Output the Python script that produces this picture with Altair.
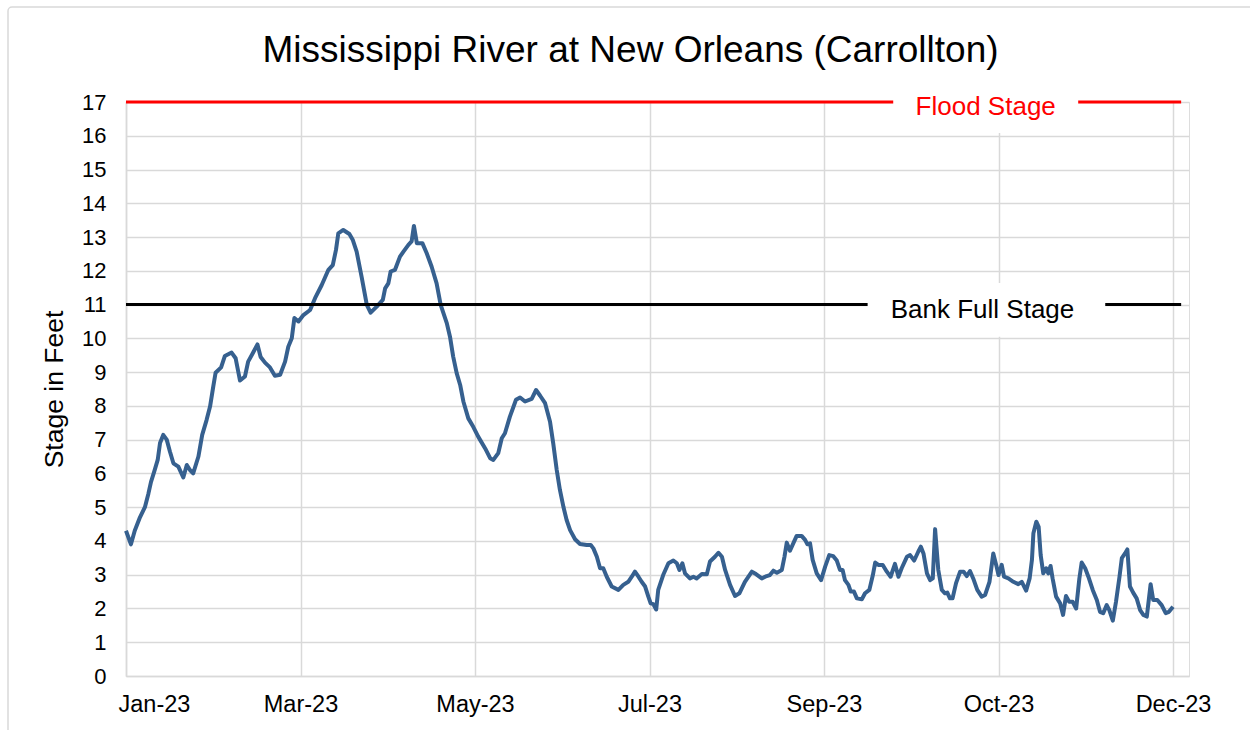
import altair as alt
import pandas as pd

# ---- data (day offset from first tick, stage in feet) ----
days = [0, 1.7, 3, 4.8, 6.5, 7.7, 8.6, 9.7, 10.9, 11.7, 12.8, 14, 15.1, 16.3, 18, 19.7,
        20.9, 22, 23.1, 24.9, 26.2, 27.7, 28.9, 30, 30.8, 32.7, 34, 36.3, 37.7, 39.2, 40.9,
        42, 43.4, 45.2, 46.3, 47.8, 49.5, 51.2, 53, 54.7, 55.8, 57, 57.9, 59.3, 61, 63.3,
        65, 67.3, 69.6, 71.1, 72.2, 73, 74.7, 76.8, 78, 79.3, 81, 82.8, 84.1, 86.2, 88.3,
        89.1, 90.2, 91, 92.5, 94.2, 95.4, 97.1, 98.2, 99, 100, 101.9, 103.4, 105.1, 106.8,
        108.2, 110.3, 111.4, 112.5, 113.7, 114.9, 116, 117.7, 119.4, 121.1, 123.5, 125.2,
        126.3, 128, 129.2, 130.3, 132, 134.1, 135.5, 137.2, 139.5, 141, 142.4, 144.1, 145.8,
        146.9, 148.1, 149.2, 150.4, 151.5, 152.7, 154.4, 156.1, 158.4, 159.8, 160.7, 161.9,
        163, 164.1, 165.3, 167, 169.3, 171, 172.7, 173.9, 175, 176.2, 177.3, 178.5, 179.6,
        180.4, 181.3, 182.3, 183, 184.7, 186.5, 188.2, 189.4, 190.3, 191.3, 192.2, 193.9,
        195.1, 196.2, 198, 199.7, 200.8, 202.5, 203.7, 204.9, 206, 207.7, 209.4, 210.9,
        212.8, 215.2, 216.6, 218.6, 220.3, 221.4, 222.6, 223.8, 225.5, 226.4, 227.2, 228.3,
        229.7, 230.6, 232.3, 233.5, 234.3, 235.2, 236.1, 237.5, 239, 240.4, 241.8, 243.2,
        244.4, 245.5, 246.4, 247.2, 248.4, 249.2, 250.3, 251.3, 253, 254.1, 255.6, 256.8,
        257.6, 258.7, 260.2, 261.6, 262.9, 264.4, 265.6, 266.7, 268.5, 269.6, 271, 272.4,
        273.3, 274.2, 275.4, 276.5, 277.4, 278.2, 279.3, 280.5, 281.6, 282.4, 283.3, 284.2,
        285.4, 286.8, 288, 289.1, 290.2, 291.3, 292.7, 294.2, 295.4, 296.9, 298.2, 299.2,
        300, 301.1, 301.9, 303.4, 305.1, 306.8, 308, 309.5, 310.7, 311.5, 312, 313, 313.8,
        314.5, 315.4, 316.4, 317.1, 317.9, 318.6, 319.8, 321.2, 322.2, 323.2, 324.3, 325.5,
        326.7, 327.8, 328.6, 329.8, 330.9, 332.4, 333.8, 334.9, 336, 337.2, 338.1, 339.3,
        340.4, 341.6, 342.4, 343.5, 344.3, 345.2, 346.3, 347.5, 348.7, 349.8, 351, 352.3,
        353.2, 354.6, 356.1, 357.5, 358.6, 360]
stage = [4.3, 3.9, 4.3, 4.7, 5.0, 5.4, 5.75, 6.05, 6.4, 6.9, 7.14, 7.0, 6.65, 6.3, 6.2, 5.88,
         6.25, 6.1, 6.0, 6.5, 7.14, 7.58, 7.98, 8.57, 8.98, 9.14, 9.48, 9.58, 9.41, 8.75, 8.87,
         9.31, 9.53, 9.82, 9.45, 9.28, 9.14, 8.89, 8.92, 9.31, 9.75, 10.0, 10.6, 10.5, 10.69, 10.84,
         11.19, 11.58, 12.03, 12.17, 12.62, 13.11, 13.21, 13.09, 12.91, 12.57, 11.83, 10.99, 10.76, 10.94, 11.14,
         11.48, 11.63, 11.98, 12.03, 12.42, 12.57, 12.77, 12.87, 13.33, 12.82, 12.82, 12.52, 12.12, 11.63,
         10.99, 10.45, 10.05, 9.46, 8.97, 8.62, 8.13, 7.63, 7.38, 7.09, 6.74, 6.45,
         6.4, 6.6, 7.04, 7.19, 7.68, 8.18, 8.25, 8.13, 8.21, 8.47, 8.3, 8.08, 7.53,
         6.89, 6.1, 5.51, 5.01, 4.62, 4.32, 4.05, 3.91, 3.88, 3.88, 3.78, 3.53,
         3.19, 3.19, 2.94, 2.65, 2.55, 2.7, 2.79, 2.94, 3.09, 2.94, 2.79, 2.65, 2.35,
         2.15, 2.13, 1.97, 2.55, 2.99, 3.34, 3.42, 3.34, 3.14, 3.34, 3.04, 2.89,
         2.94, 2.89, 3.02, 3.01, 3.39, 3.53, 3.65, 3.53, 3.14, 2.7, 2.37, 2.45,
         2.79, 3.09, 3.02, 2.89, 2.96, 2.99, 3.12, 3.06, 3.14, 3.53, 3.95, 3.71,
         3.98, 4.15, 4.15, 4.03, 3.9, 3.93, 3.44, 3.04, 2.84, 3.24, 3.58, 3.55,
         3.42, 3.14, 3.14, 2.84, 2.7, 2.5, 2.5, 2.3, 2.27, 2.45, 2.55, 2.99,
         3.36, 3.29, 3.29, 3.09, 2.94, 3.32, 2.94, 3.19, 3.53, 3.58, 3.42, 3.68,
         3.83, 3.63, 3.04, 2.84, 2.89, 4.35, 3.14, 2.55, 2.45, 2.47, 2.3, 2.3,
         2.75, 3.09, 3.09, 2.96, 3.11, 2.89, 2.55, 2.35, 2.4, 2.79, 3.63, 3.29,
         2.99, 3.29, 2.94, 2.89, 2.79, 2.72, 2.79, 2.53, 2.89, 3.44, 4.23, 4.57, 4.42,
         3.58, 3.04, 3.19, 3.04, 3.26, 2.89, 2.35, 2.15, 1.81, 2.37, 2.2, 2.2,
         2.0, 2.89, 3.36, 3.19, 2.94, 2.55, 2.25, 1.9, 1.86, 2.1, 1.95, 1.64,
         2.2, 2.94, 3.49, 3.63, 3.75, 2.65, 2.47, 2.3, 1.95, 1.81, 1.76, 2.72,
         2.25, 2.25, 2.1, 1.86, 1.9, 2.05]

tick_days = [0, 60, 120, 180, 240, 300, 360]
tick_labels = ["Jan-23", "Mar-23", "May-23", "Jul-23", "Sep-23", "Oct-23", "Dec-23"]
y_ticks = list(range(0, 18))

ref_names = ["Flood Stage", "Bank Full Stage"]
ref_values = [17, 11]
ref_colors = ["#ff0000", "#000000"]
ref_end = 362.8
label_x = [295.6, 294.5]
label_y = [16.86, 10.84]
box_x = [263.8, 255.0]
box_x2 = [327.4, 336.7]
box_y = [16.08, 10.05]
box_y2 = [17.15, 11.64]

W, H = 1063, 574
FONT = "Liberation Sans"

df = pd.DataFrame({"day": days, "stage": stage})
refs = pd.DataFrame({"name": ref_names, "value": ref_values, "color": ref_colors,
                     "x0": [0, 0], "x1": [ref_end, ref_end],
                     "lx": label_x, "ly": label_y,
                     "bx": box_x, "bx2": box_x2, "by": box_y, "by2": box_y2})

label_expr = "[" + ",".join("'%s'" % t for t in tick_labels) + "][round(datum.value / 60)]"

xscale = alt.Scale(domain=[0, 365.5], nice=False, zero=False)
yscale = alt.Scale(domain=[0, 17], nice=False)

x_axis = alt.Axis(values=tick_days, labelExpr=label_expr, title=None, grid=True,
                  ticks=False, labelPadding=16, labelFontSize=23.5, labelColor="#000000",
                  domainColor="#d9d9d9", domainWidth=1.5, gridColor="#d9d9d9", gridWidth=1.5,
                  labelFont=FONT, labelOverlap=False, labelFlushOffset=8)
y_axis = alt.Axis(values=y_ticks, title="Stage in Feet", grid=True, ticks=False,
                  labelPadding=20, labelFontSize=22, labelColor="#000000", labelOverlap=False,
                  titleFontSize=26.5, titleFont=FONT, titleFontWeight="normal", titleColor="#000000",
                  titlePadding=13, domainColor="#d9d9d9", domainWidth=1.5,
                  gridColor="#d9d9d9", gridWidth=1.5, labelFont=FONT)

border = alt.Chart(pd.DataFrame({"a": [0]})).mark_rect(
    filled=False, stroke="#d9d9d9", strokeWidth=1.5, clip=False, cornerRadius=4
).encode(x=alt.value(-118), x2=alt.value(W + 90), y=alt.value(-95), y2=alt.value(H + 80))

base_line = alt.Chart(df).mark_line(color="#36608f", strokeWidth=4, strokeJoin="round").encode(
    x=alt.X("day:Q", scale=xscale, axis=x_axis),
    y=alt.Y("stage:Q", scale=yscale, axis=y_axis),
)

rules = alt.Chart(refs).mark_rule(strokeWidth=3, clip=False).encode(
    x=alt.X("x0:Q", scale=xscale, axis=x_axis),
    x2="x1:Q",
    y=alt.Y("value:Q", scale=yscale, axis=y_axis),
    color=alt.Color("color:N", scale=None, legend=None),
)

boxes = alt.Chart(refs).mark_rect(color="white", clip=False).encode(
    x=alt.X("bx:Q", scale=xscale, axis=x_axis),
    x2="bx2:Q",
    y=alt.Y("by:Q", scale=yscale, axis=y_axis),
    y2="by2:Q",
)

texts = alt.Chart(refs).mark_text(fontSize=26, font=FONT, baseline="middle", align="center").encode(
    x=alt.X("lx:Q", scale=xscale, axis=x_axis),
    y=alt.Y("ly:Q", scale=yscale, axis=y_axis),
    text="name:N",
    color=alt.Color("color:N", scale=None, legend=None),
)

chart = alt.layer(border, base_line, rules, boxes, texts).properties(
    width=W, height=H,
    title=alt.TitleParams("Mississippi River at New Orleans (Carrollton)", fontSize=37,
                          font=FONT, fontWeight="normal", color="#000000",
                          anchor="middle", baseline="alphabetic", offset=-93, dx=-27),
    autosize=alt.AutoSizeParams(type="none"),
    padding={"left": 126, "top": 102, "right": 61, "bottom": 54},
).configure_view(stroke=None).configure(background="white")

chart.save("out.html", embed_options={"renderer": "svg", "actions": False})
